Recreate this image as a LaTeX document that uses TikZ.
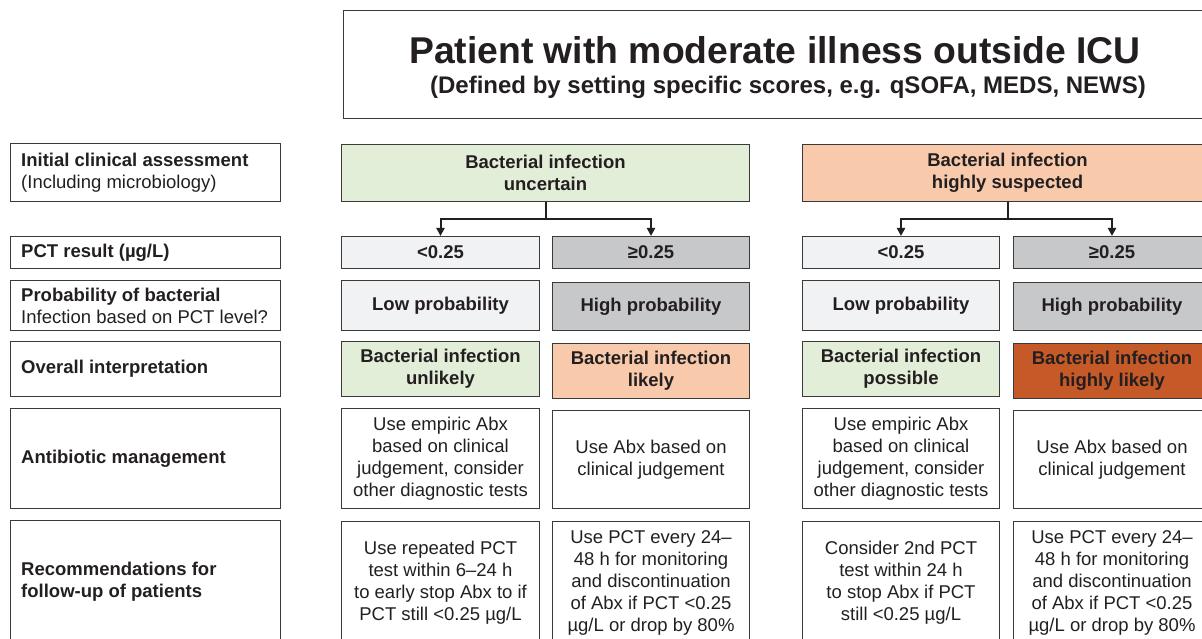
\documentclass[tikz,border=0pt]{standalone}
\usepackage{fontspec}
\setmainfont{Liberation Sans}
\usetikzlibrary{arrows.meta}
\definecolor{txt}{HTML}{231F20}
\definecolor{edge}{HTML}{3A3A3A}
\definecolor{lgreen}{HTML}{E2EED8}
\definecolor{lorange}{HTML}{F8CAAB}
\definecolor{dorange}{HTML}{C55A28}
\definecolor{lgray}{HTML}{F1F2F4}
\definecolor{dgray}{HTML}{C7C8CA}
\tikzset{
  cell/.style={draw=edge, line width=1pt, anchor=north west, inner sep=0pt,
    align=center, text=txt, font=\fontsize{18.5}{22}\selectfont},
  bcell/.style={cell, font=\fontsize{18.5}{22}\selectfont\bfseries},
  lbl/.style={anchor=west, inner sep=0pt, align=left, text=txt,
    font=\fontsize{18.5}{22}\selectfont},
  conn/.style={draw=txt, line width=2pt, -{Triangle[length=8pt,width=8pt]}},
  wh/.style 2 args={minimum width=#1pt, minimum height=#2pt},
}
\begin{document}
\begin{tikzpicture}[x=1pt,y=-1pt]
\useasboundingbox (0,0) rectangle (1202,639);
\clip (0,0) rectangle (1202,639);
% title
\draw[edge, line width=1pt] (1215,11) -- (343,11) -- (343,119) -- (1215,119);
\node[anchor=base, inner sep=0pt, text=txt, font=\fontsize{37.3}{40}\selectfont\bfseries] (title) at (775,64) {Patient with moderate illness outside ICU};
\node[anchor=base, inner sep=0pt, text=txt, font=\fontsize{24}{26}\selectfont\bfseries] (sub) at (788,94) {(Defined by setting specific scores, e.g. qSOFA, MEDS, NEWS)};
% left labels
\node[cell, wh={270}{58}] (l1) at (10,143) {};
\node[lbl] at ([xshift=11pt]l1.west) {\textbf{Initial clinical assessment}\\(Including microbiology)};
\node[cell, wh={270}{32}] (l2) at (10,236) {};
\node[lbl] at ([xshift=11pt]l2.west) {\textbf{PCT result (µg/L)}};
\node[cell, wh={270}{50}] (l3) at (10,280) {};
\node[lbl] at ([xshift=11pt]l3.west) {\textbf{Probability of bacterial}\\Infection based on PCT level?};
\node[cell, wh={270}{55}] (l4) at (10,341) {};
\node[lbl] at ([xshift=11pt]l4.west) {\textbf{Overall interpretation}};
\node[cell, wh={270}{100}] (l5) at (10,408) {};
\node[lbl] at ([xshift=11pt]l5.west) {\textbf{Antibiotic management}};
\node[cell, wh={270}{122}] (l6) at (10,520) {};
\node[lbl] at ([xshift=11pt]l6.west) {\textbf{Recommendations for}\\\textbf{follow-up of patients}};
% middle column
\node[bcell, fill=lgreen, wh={408}{57}] (g1) at (341,144) {Bacterial infection\\uncertain};
\node[bcell, fill=lgray, wh={198}{32}] (p1) at (341,236) {<0.25};
\node[bcell, fill=dgray, wh={197}{32}] (p2) at (552,236) {≥0.25};
\node[bcell, fill=lgray, wh={198}{50}] (q1) at (341,280) {Low probability};
\node[bcell, fill=dgray, wh={197}{48}] (q2) at (552,282) {High probability};
\node[bcell, fill=lgreen, wh={198}{55}] (r1) at (341,341) {Bacterial infection\\unlikely};
\node[bcell, fill=lorange, wh={197}{55}] (r2) at (552,343) {Bacterial infection\\likely};
\node[cell, wh={198}{100}] (a1) at (341,408) {Use empiric Abx\\based on clinical\\judgement, consider\\other diagnostic tests};
\node[cell, wh={197}{98}] (a2) at (552,410) {Use Abx based on\\clinical judgement};
\node[cell, wh={198}{122}] (f1) at (341,521) {Use repeated PCT\\test within 6–24 h\\to early stop Abx to if\\PCT still <0.25 µg/L};
\node[cell, wh={197}{122}] (f2) at (552,521) {Use PCT every 24–\\48 h for monitoring\\and discontinuation\\of Abx if PCT <0.25\\µg/L or drop by 80\%};
% right column
\node[bcell, fill=lorange, wh={410}{57}] (g2) at (802,144) {Bacterial infection\\highly suspected};
\node[bcell, fill=lgray, wh={197}{32}] (p3) at (802,236) {<0.25};
\node[bcell, fill=dgray, wh={197}{32}] (p4) at (1013,236) {≥0.25};
\node[bcell, fill=lgray, wh={197}{50}] (q3) at (802,280) {Low probability};
\node[bcell, fill=dgray, wh={197}{48}] (q4) at (1013,282) {High probability};
\node[bcell, fill=lgreen, wh={197}{55}] (r3) at (802,341) {Bacterial infection\\possible};
\node[bcell, fill=dorange, wh={197}{55}] (r4) at (1013,343) {Bacterial infection\\highly likely};
\node[cell, wh={197}{100}] (a3) at (802,408) {Use empiric Abx\\based on clinical\\judgement, consider\\other diagnostic tests};
\node[cell, wh={197}{98}] (a4) at (1013,410) {Use Abx based on\\clinical judgement};
\node[cell, wh={197}{122}] (f3) at (802,521) {Consider 2nd PCT\\test within 24 h\\to stop Abx if PCT\\still <0.25 µg/L};
\node[cell, wh={197}{122}] (f4) at (1013,521) {Use PCT every 24–\\48 h for monitoring\\and discontinuation\\of Abx if PCT <0.25\\µg/L or drop by 80\%};
% connectors
\draw[conn] (g1.south) -- ++(0,17) -| (p1.north);
\draw[conn] (g1.south) -- ++(0,17) -| (p2.north);
\draw[conn] (g2.south) -- ++(0,17) -| (p3.north);
\draw[conn] (g2.south) -- ++(0,17) -| (p4.north);
\end{tikzpicture}
\end{document}
